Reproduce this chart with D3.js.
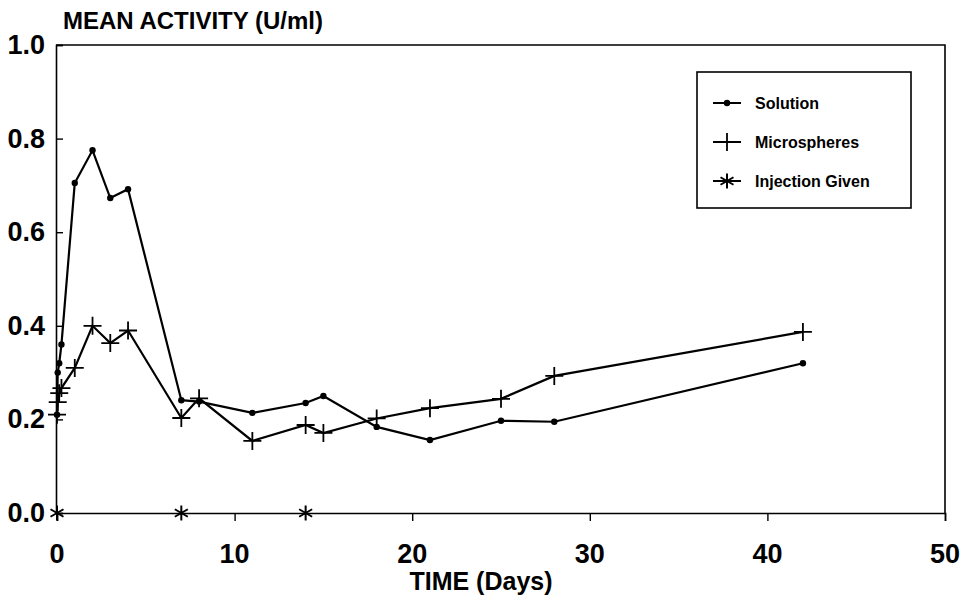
<!DOCTYPE html>
<html>
<head>
<meta charset="utf-8">
<script src="https://cdn.jsdelivr.net/npm/d3@7/dist/d3.min.js"></script>
<style>
  html, body { margin: 0; padding: 0; background: #fff; }
  svg { display: block; }
  text { font-family: "Liberation Sans", Arial, Helvetica, sans-serif; font-weight: bold; fill: #000; }
</style>
</head>
<body>
<svg id="chart" width="963" height="597"></svg>
<script>
// Mean activity (U/ml) over time (days)
const solutionDays   = [0, 0.04, 0.125, 0.25, 1, 2, 3, 4, 7, 8, 11, 14, 15, 18, 21, 25, 28, 42];
const solutionValues = [0.21, 0.30, 0.32, 0.36, 0.705, 0.775, 0.673, 0.692, 0.241, 0.238, 0.214, 0.235, 0.25, 0.184, 0.156, 0.197, 0.195, 0.32];

const microDays   = [0, 0.04, 0.125, 0.25, 1, 2, 3, 4, 7, 8, 11, 14, 15, 18, 21, 25, 28, 42];
const microValues = [0.21, 0.237, 0.256, 0.267, 0.31, 0.40, 0.363, 0.39, 0.203, 0.245, 0.154, 0.188, 0.171, 0.202, 0.224, 0.244, 0.293, 0.387];

const injectionDays   = [0, 7, 14];
const injectionValues = [0, 0, 0];

const xTicks = [0, 10, 20, 30, 40, 50];
const yTicks = [0, 0.2, 0.4, 0.6, 0.8, 1.0];

const legendLabels = ["Solution", "Microspheres", "Injection Given"];

const svg = d3.select("#chart");
const plot = { left: 56, right: 945, top: 45, bottom: 513 };

const x = d3.scaleLinear().domain([0, 50]).range([plot.left + 1, plot.right]);
const y = d3.scaleLinear().domain([0, 1]).range([plot.bottom, plot.top]);

const ink = "#000";

// Frame: top and right edges
svg.append("path")
  .attr("d", `M${plot.left},${plot.top}H${plot.right}V${plot.bottom}`)
  .attr("fill", "none").attr("stroke", ink).attr("stroke-width", 1.6);

// Y axis with inward ticks
const yAxis = svg.append("g")
  .attr("transform", `translate(${plot.left},0)`)
  .call(d3.axisRight(y).tickValues(yTicks).tickSize(7).tickFormat(""));
yAxis.select(".domain").attr("stroke-width", 1.6);
yAxis.selectAll(".tick line").attr("stroke-width", 1.4);

svg.append("g").selectAll("text")
  .data(yTicks).join("text")
  .attr("x", plot.left - 11)
  .attr("y", d => y(d) + 9)
  .attr("text-anchor", "end")
  .attr("font-size", 27)
  .text(d3.format(".1f"));

// X axis with outward ticks
const xAxis = svg.append("g")
  .attr("transform", `translate(0,${plot.bottom})`)
  .call(d3.axisBottom(x).tickValues(xTicks).tickSize(8).tickFormat(""));
xAxis.select(".domain").attr("stroke-width", 1.6);
xAxis.selectAll(".tick line").attr("stroke-width", 1.4);

svg.append("g").selectAll("text")
  .data(xTicks).join("text")
  .attr("x", d => x(d))
  .attr("y", plot.bottom + 50)
  .attr("text-anchor", "middle")
  .attr("font-size", 27)
  .text(d => d);

// Axis titles
svg.append("text")
  .attr("x", 63).attr("y", 29)
  .attr("font-size", 24)
  .text("MEAN ACTIVITY (U/ml)");

svg.append("text")
  .attr("x", 481).attr("y", 590)
  .attr("text-anchor", "middle")
  .attr("font-size", 25)
  .text("TIME (Days)");

// Series
const line = d3.line().x(d => x(d[0])).y(d => y(d[1]));
const solution = d3.zip(solutionDays, solutionValues);
const micro = d3.zip(microDays, microValues);
const injection = d3.zip(injectionDays, injectionValues);

svg.append("path").datum(solution)
  .attr("d", line).attr("fill", "none").attr("stroke", ink).attr("stroke-width", 2.2);
svg.append("path").datum(micro)
  .attr("d", line).attr("fill", "none").attr("stroke", ink).attr("stroke-width", 2.2);

// Marker shapes
const plusPath = s => `M${-s},0H${s}M0,${-s}V${s}`;
const starPath = s => {
  let d = "";
  for (let i = 0; i < 3; i++) {
    const a = Math.PI / 2 + i * Math.PI / 3;
    const dx = Math.cos(a) * s, dy = Math.sin(a) * s;
    d += `M${-dx},${-dy}L${dx},${dy}`;
  }
  return d;
};

svg.append("g").selectAll("circle")
  .data(solution).join("circle")
  .attr("cx", d => x(d[0])).attr("cy", d => y(d[1]))
  .attr("r", 3.2).attr("fill", ink);

svg.append("g").selectAll("path")
  .data(micro).join("path")
  .attr("transform", d => `translate(${x(d[0])},${y(d[1])})`)
  .attr("d", plusPath(9))
  .attr("stroke", ink).attr("stroke-width", 1.8);

svg.append("g").selectAll("path")
  .data(injection).join("path")
  .attr("transform", d => `translate(${x(d[0])},${y(d[1])})`)
  .attr("d", starPath(7.5))
  .attr("stroke", ink).attr("stroke-width", 2);

// Legend
const legend = svg.append("g");
legend.append("rect")
  .attr("x", 697).attr("y", 72).attr("width", 214).attr("height", 136)
  .attr("fill", "#fff").attr("stroke", ink).attr("stroke-width", 1.6);

const rows = legend.selectAll("g.row")
  .data(legendLabels).join("g")
  .attr("class", "row")
  .attr("transform", (d, i) => `translate(0,${103 + i * 39})`);

rows.append("line")
  .attr("x1", 713).attr("x2", 741).attr("y1", 0).attr("y2", 0)
  .attr("stroke", ink).attr("stroke-width", 2);

rows.append("text")
  .attr("x", 755).attr("y", 5.5)
  .attr("font-size", 16)
  .text(d => d);

rows.filter((d, i) => i === 0).append("circle")
  .attr("cx", 727).attr("cy", 0).attr("r", 3.2).attr("fill", ink);
rows.filter((d, i) => i === 1).append("path")
  .attr("transform", "translate(727,0)")
  .attr("d", plusPath(9)).attr("stroke", ink).attr("stroke-width", 1.8);
rows.filter((d, i) => i === 2).append("path")
  .attr("transform", "translate(727,0)")
  .attr("d", starPath(7.5)).attr("stroke", ink).attr("stroke-width", 2);
</script>
</body>
</html>
